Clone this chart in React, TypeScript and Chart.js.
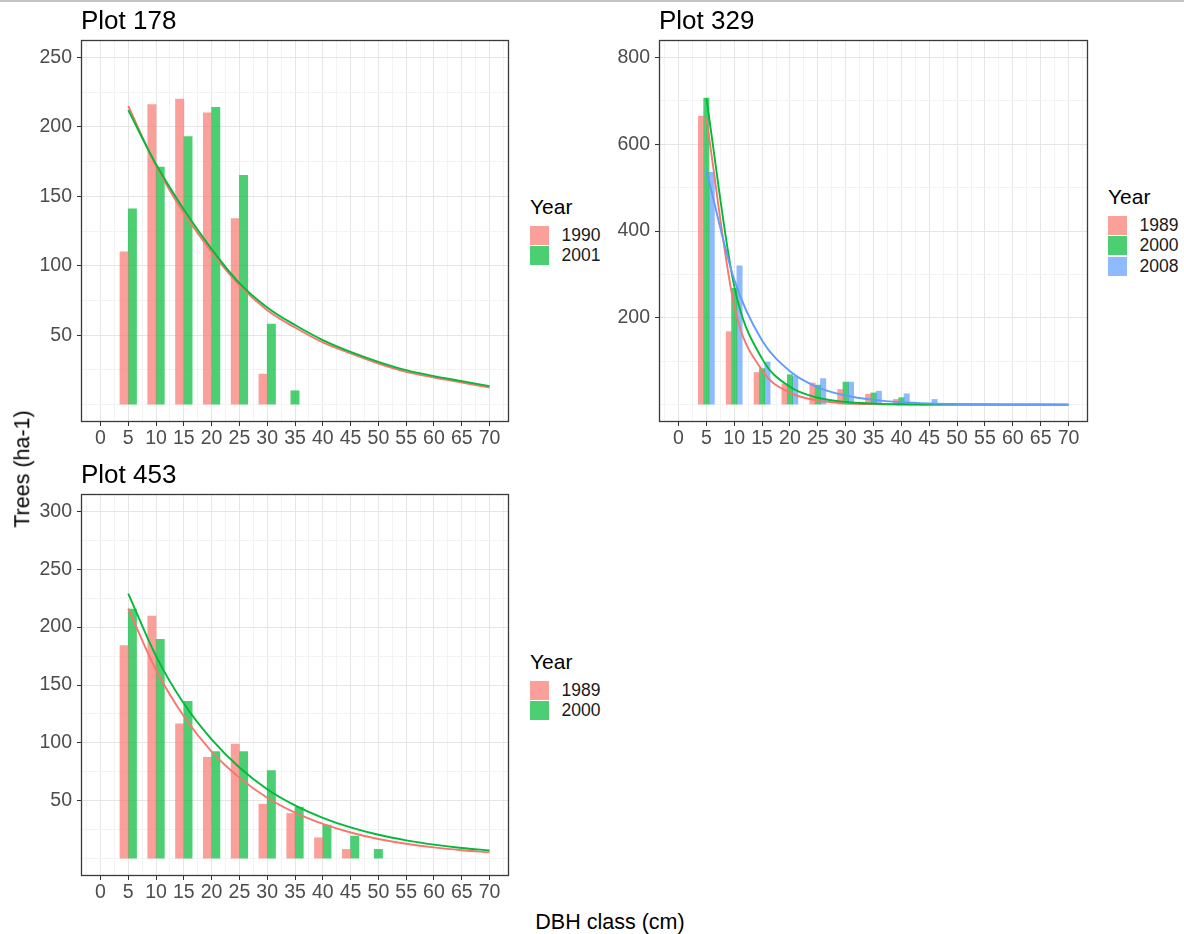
import React, { useEffect, useRef } from "react";
import { Chart, registerables } from "chart.js";

Chart.register(...registerables);

const FONT = "'Liberation Sans', Arial, Helvetica, sans-serif";

// ---- shared x axis (DBH class, cm) ----
const X_TICKS = [-2.5, 0, 2.5, 5, 7.5, 10, 12.5, 15, 17.5, 20, 22.5, 25, 27.5, 30, 32.5, 35, 37.5, 40, 42.5, 45, 47.5, 50, 52.5, 55, 57.5, 60, 62.5, 65, 67.5, 70, 72.5];
const X_TICK_LABELS = [0, 5, 10, 15, 20, 25, 30, 35, 40, 45, 50, 55, 60, 65, 70];
const FIT_DBH = [5, 10, 15, 20, 25, 30, 35, 40, 45, 50, 55, 60, 65, 70];

const RED = "#F8766D";
const GREEN = "#00BA38";
const BLUE = "#619CFF";

// ---- Plot 178 ----
const P178_DBH = [5, 10, 15, 20, 25, 30, 35];
const P178_YEARS = ["1990", "2001"];
const P178_1990 = [110, 216, 220, 210, 134, 22, null];
const P178_2001 = [141, 171, 193, 214, 165, 58, 10];
const P178_FIT_1990 = [215, 172, 138, 110, 86, 68, 55.5, 44.8, 36.9, 29.6, 23.6, 19.5, 15.9, 12.3];
const P178_FIT_2001 = [212, 173, 140.5, 112, 87.5, 70, 57.3, 46.5, 38, 30.8, 24.8, 20.5, 16.9, 13.3];
const P178_Y_TICKS = [0, 25, 50, 75, 100, 125, 150, 175, 200, 225, 250];
const P178_Y_LABELS = [50, 100, 150, 200, 250];

// ---- Plot 329 ----
const P329_DBH = [5, 10, 15, 20, 25, 30, 35, 40, 45];
const P329_YEARS = ["1989", "2000", "2008"];
const P329_1989 = [665, 168, 74, 48, 50, 35, 24, 12, 0];
const P329_2000 = [706, 268, 83, 69, 45, 52, 27, 16, 0];
const P329_2008 = [535, 320, 98, 65, 60, 52, 31, 25, 12];
const P329_FIT_1989 = [660, 228, 79, 27.5, 9.5, 3.3, 1.2, 0.4, 0.15, 0.05, 0, 0, 0, 0];
const P329_FIT_2000 = [706, 273, 106, 41, 15.8, 6.1, 2.4, 0.9, 0.35, 0.1, 0, 0, 0, 0];
const P329_FIT_2008 = [540, 288, 148, 77, 40, 21, 11, 5.7, 3, 1.6, 0.8, 0.4, 0.2, 0.1];
const P329_Y_TICKS = [0, 100, 200, 300, 400, 500, 600, 700, 800];
const P329_Y_LABELS = [200, 400, 600, 800];

// ---- Plot 453 ----
const P453_DBH = [5, 10, 15, 20, 25, 30, 35, 40, 45, 50];
const P453_YEARS = ["1989", "2000"];
const P453_1989 = [184, 209.5, 116.5, 87.5, 99, 47, 39, 18, 8, null];
const P453_2000 = [215.5, 189.5, 136, 92.5, 92.5, 76, 44.5, 29, 19.5, 8];
const P453_FIT_1989 = [216, 163, 123, 92.5, 70, 52.6, 39.7, 30, 22.6, 17, 12.9, 9.7, 7.3, 5.5];
const P453_FIT_2000 = [229, 175, 134, 103, 78.7, 60, 46, 35.3, 27, 20.6, 15.8, 12.1, 9.2, 7.1];
const P453_Y_TICKS = [0, 25, 50, 75, 100, 125, 150, 175, 200, 225, 250, 275, 300];
const P453_Y_LABELS = [50, 100, 150, 200, 250, 300];

type Series = { label: string; color: string; bars: (number | null)[]; fit: number[] };
type Box = { left: number; top: number; width: number; height: number };
type Area = { left: number; top: number; right: number; bottom: number };

function withAlpha(hex: string, a: number) {
  const r = parseInt(hex.slice(1, 3), 16);
  const g = parseInt(hex.slice(3, 5), 16);
  const b = parseInt(hex.slice(5, 7), 16);
  return `rgba(${r},${g},${b},${a})`;
}

const MAJOR_GRID = "#E6E6E6";
const MINOR_GRID = "#F3F3F3";
const TICK_COLOR = "#333333";
const TICK_TEXT = "#4D4D4D";

const panelBorder = {
  id: "panelBorder",
  afterDraw(chart: any) {
    const { ctx, chartArea } = chart;
    ctx.save();
    ctx.strokeStyle = "#3A3A3A";
    ctx.lineWidth = 1.3;
    ctx.strokeRect(chartArea.left + 0.5, chartArea.top + 0.5, chartArea.right - chartArea.left - 1, chartArea.bottom - chartArea.top - 1);
    ctx.restore();
  },
};

type PanelProps = {
  title: string;
  dbh: number[];
  series: Series[];
  yMin: number;
  yMax: number;
  yTicks: number[];
  yLabels: number[];
  barThickness: number;
  canvas: Box;
  area: Area;
  legendTop: number;
  legendLeft: number;
};

function Panel(p: PanelProps) {
  const ref = useRef<HTMLCanvasElement | null>(null);

  useEffect(() => {
    if (!ref.current) return;
    const yAxisWidth = p.area.left - p.canvas.left;
    const padTop = p.area.top - p.canvas.top;
    const padRight = p.canvas.left + p.canvas.width - p.area.right;
    const xAxisHeight = p.canvas.top + p.canvas.height - p.area.bottom;
    const n = p.series.length;

    const datasets: any[] = [];
    p.series.forEach((s, i) => {
      datasets.push({
        type: "line",
        label: s.label + " fit",
        data: FIT_DBH.map((x, j) => ({ x, y: s.fit[j] })),
        borderColor: s.color,
        borderWidth: 1.9,
        pointRadius: 0,
        cubicInterpolationMode: "monotone",
        fill: false,
        order: n - i,
      });
    });
    p.series.forEach((s, i) => {
      datasets.push({
        type: "bar",
        label: s.label,
        data: p.dbh.map((x, j) => ({ x, y: s.bars[j] })),
        backgroundColor: withAlpha(s.color, 0.7),
        borderWidth: 0,
        barThickness: p.barThickness,
        skipNull: true,
        order: 10 + i,
      });
    });

    const chart = new Chart(ref.current, {
      type: "bar",
      data: { datasets },
      options: {
        responsive: false,
        animation: false,
        events: [],
        layout: { padding: { left: 0, top: padTop, right: padRight, bottom: 0 } },
        plugins: { legend: { display: false }, tooltip: { enabled: false }, title: { display: false } },
        scales: {
          x: {
            type: "linear",
            min: -3.5,
            max: 73.5,
            offset: false,
            afterBuildTicks: (sc: any) => {
              sc.ticks = X_TICKS.map((v) => ({ value: v }));
            },
            afterFit: (sc: any) => {
              sc.height = xAxisHeight;
              sc.paddingLeft = 0;
              sc.paddingRight = 0;
            },
            ticks: {
              autoSkip: false,
              maxRotation: 0,
              minRotation: 0,
              padding: 1,
              color: TICK_TEXT,
              font: { family: FONT, size: 19.5 },
              callback: (v: any) => (X_TICK_LABELS.includes(Number(v)) ? String(v) : ""),
            },
            grid: {
              offset: false,
              lineWidth: 1,
              tickLength: 4,
              tickWidth: 1,
              color: (ctx: any) => (ctx.tick && X_TICK_LABELS.includes(ctx.tick.value) ? MAJOR_GRID : MINOR_GRID),
              tickColor: (ctx: any) => (ctx.tick && X_TICK_LABELS.includes(ctx.tick.value) ? TICK_COLOR : "rgba(0,0,0,0)"),
            },
            border: { display: false },
          },
          y: {
            type: "linear",
            min: p.yMin,
            max: p.yMax,
            afterBuildTicks: (sc: any) => {
              sc.ticks = p.yTicks.map((v) => ({ value: v }));
            },
            afterFit: (sc: any) => {
              sc.width = yAxisWidth;
              sc.paddingTop = 0;
              sc.paddingBottom = 0;
            },
            ticks: {
              padding: 5,
              color: TICK_TEXT,
              font: { family: FONT, size: 19.5 },
              callback: (v: any) => (p.yLabels.includes(Number(v)) ? String(v) : ""),
            },
            grid: {
              lineWidth: 1,
              tickLength: 4,
              tickWidth: 1,
              color: (ctx: any) => (ctx.tick && p.yLabels.includes(ctx.tick.value) ? MAJOR_GRID : MINOR_GRID),
              tickColor: (ctx: any) => (ctx.tick && p.yLabels.includes(ctx.tick.value) ? TICK_COLOR : "rgba(0,0,0,0)"),
            },
            border: { display: false },
          },
        },
      } as any,
      plugins: [panelBorder],
    });
    return () => chart.destroy();
  }, []);

  return (
    <>
      <canvas
        ref={ref}
        width={p.canvas.width}
        height={p.canvas.height}
        style={{ position: "absolute", left: p.canvas.left, top: p.canvas.top, width: p.canvas.width, height: p.canvas.height }}
      />
      <div
        style={{
          position: "absolute",
          left: p.area.left,
          top: p.area.top - 33,
          fontFamily: FONT,
          fontSize: 26,
          lineHeight: "26px",
          color: "#000",
          whiteSpace: "nowrap",
        }}
      >
        {p.title}
      </div>
      <div style={{ position: "absolute", left: p.legendLeft, top: p.legendTop, fontFamily: FONT }}>
        <div style={{ fontSize: 21, lineHeight: "21px", color: "#000", marginBottom: 9.4 }}>Year</div>
        {p.series.map((s) => (
          <div key={s.label} style={{ display: "flex", alignItems: "center", height: 19, marginBottom: 1.5 }}>
            <div style={{ width: 19, height: 19, background: withAlpha(s.color, 0.7) }} />
            <div style={{ marginLeft: 12.5, fontSize: 17.5, lineHeight: "19px", color: "#1A1A1A" }}>{s.label}</div>
          </div>
        ))}
      </div>
    </>
  );
}

export default function App() {
  const s178: Series[] = [
    { label: P178_YEARS[0], color: RED, bars: P178_1990, fit: P178_FIT_1990 },
    { label: P178_YEARS[1], color: GREEN, bars: P178_2001, fit: P178_FIT_2001 },
  ];
  const s329: Series[] = [
    { label: P329_YEARS[0], color: RED, bars: P329_1989, fit: P329_FIT_1989 },
    { label: P329_YEARS[1], color: GREEN, bars: P329_2000, fit: P329_FIT_2000 },
    { label: P329_YEARS[2], color: BLUE, bars: P329_2008, fit: P329_FIT_2008 },
  ];
  const s453: Series[] = [
    { label: P453_YEARS[0], color: RED, bars: P453_1989, fit: P453_FIT_1989 },
    { label: P453_YEARS[1], color: GREEN, bars: P453_2000, fit: P453_FIT_2000 },
  ];

  return (
    <div style={{ position: "absolute", left: 0, top: 0, width: 1184, height: 934, background: "#fff", overflow: "hidden" }}>
      <div style={{ position: "absolute", left: 0, top: 0, width: 1184, height: 2, background: "#C4C4C4" }} />
      <Panel
        title="Plot 178"
        dbh={P178_DBH}
        series={s178}
        yMin={-12.5}
        yMax={262.5}
        yTicks={P178_Y_TICKS}
        yLabels={P178_Y_LABELS}
        barThickness={8.3}
        canvas={{ left: 20, top: 30, width: 500, height: 430 }}
        area={{ left: 81, top: 40, right: 509, bottom: 422 }}
        legendTop={195.6}
        legendLeft={530}
      />
      <Panel
        title="Plot 329"
        dbh={P329_DBH}
        series={s329}
        yMin={-40}
        yMax={840}
        yTicks={P329_Y_TICKS}
        yLabels={P329_Y_LABELS}
        barThickness={5.35}
        canvas={{ left: 600, top: 30, width: 500, height: 430 }}
        area={{ left: 659, top: 40, right: 1088, bottom: 422 }}
        legendTop={185.6}
        legendLeft={1108}
      />
      <Panel
        title="Plot 453"
        dbh={P453_DBH}
        series={s453}
        yMin={-15}
        yMax={315}
        yTicks={P453_Y_TICKS}
        yLabels={P453_Y_LABELS}
        barThickness={8.3}
        canvas={{ left: 20, top: 484, width: 500, height: 430 }}
        area={{ left: 81, top: 494, right: 509, bottom: 876 }}
        legendTop={650.6}
        legendLeft={530}
      />
      <div
        style={{
          position: "absolute",
          left: 23,
          top: 469,
          transform: "translate(-50%, -50%) rotate(-90deg)",
          fontFamily: FONT,
          fontSize: 21.5,
          lineHeight: "21.5px",
          color: "#000",
          whiteSpace: "nowrap",
        }}
      >
        Trees (ha-1)
      </div>
      <div
        style={{
          position: "absolute",
          left: 610,
          top: 912.2,
          transform: "translateX(-50%)",
          fontFamily: FONT,
          fontSize: 21.5,
          lineHeight: "21.5px",
          color: "#000",
          whiteSpace: "nowrap",
        }}
      >
        DBH class (cm)
      </div>
    </div>
  );
}
